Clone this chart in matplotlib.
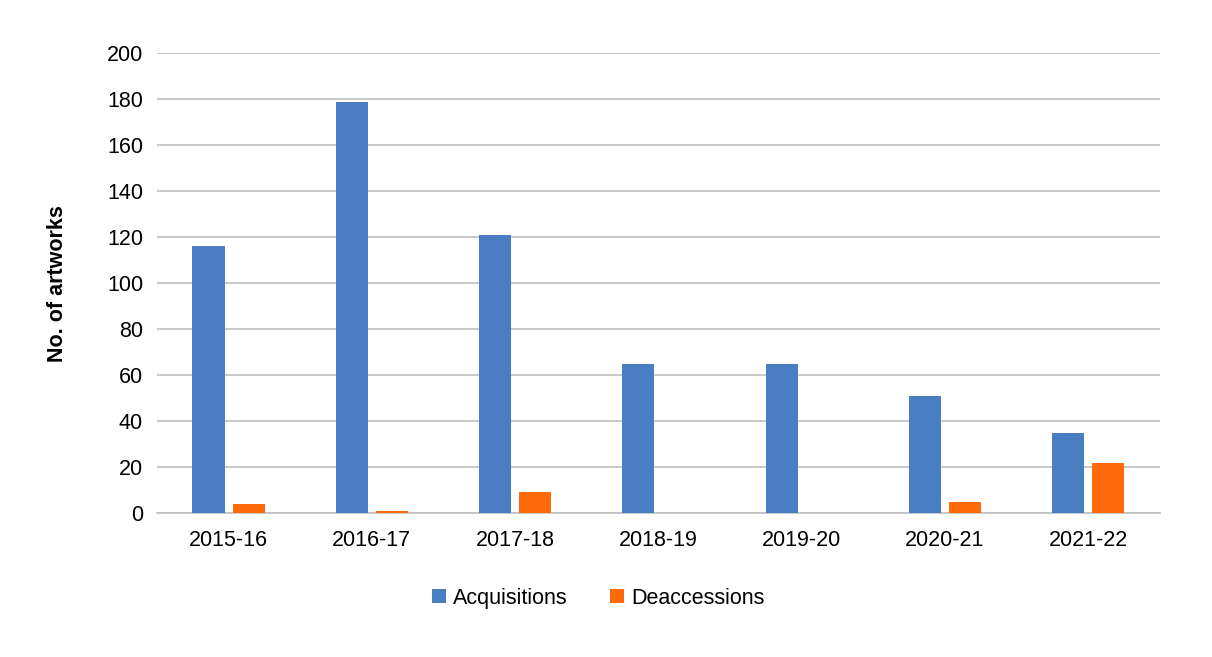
import matplotlib
matplotlib.use("Agg")
import matplotlib.pyplot as plt
import numpy as np

plt.rcParams['font.family'] = ['Liberation Sans', 'DejaVu Sans']

years = ["2015-16", "2016-17", "2017-18", "2018-19", "2019-20", "2020-21", "2021-22"]
acquisitions = [116, 179, 121, 65, 65, 51, 35]
deaccessions = [4, 1, 9, 0, 0, 5, 22]

fig = plt.figure(figsize=(12.12, 6.57), dpi=100)
ax = fig.add_axes([0.1295, 0.219, 0.8275, 0.700])
x = np.arange(len(years))
w = 0.225
ax.bar(x - 0.14, acquisitions, w, color='#4A7EC2', label='Acquisitions', zorder=3)
ax.bar(x + 0.14, deaccessions, w, color='#FF6A0A', label='Deaccessions', zorder=3)
ax.set_xlim(-0.5, len(years) - 0.5)
ax.set_ylim(0, 200)
ax.set_yticks(range(0, 201, 20))
ax.set_xticks(x)
ax.set_xticklabels(years)
ax.tick_params(axis='both', labelsize=15.5, length=0, colors='black')
ax.tick_params(axis='y', pad=10)
ax.tick_params(axis='x', pad=12)
ax.grid(axis='y', color='#BFBFBF', linewidth=1.2, zorder=0)
for s in ['top', 'right', 'left']:
    ax.spines[s].set_visible(False)
ax.spines['bottom'].set_color('#BFBFBF')
ax.spines['bottom'].set_linewidth(1.2)
ax.set_ylabel('No. of artworks', fontsize=15.5, fontweight='bold', labelpad=28)
ax.legend(loc='upper center', bbox_to_anchor=(0.44, -0.12), ncol=2, frameon=False,
          fontsize=15.5, handlelength=0.65, handleheight=0.65, handletextpad=0.3, columnspacing=2.0)
fig.savefig('out.png', dpi=100)
